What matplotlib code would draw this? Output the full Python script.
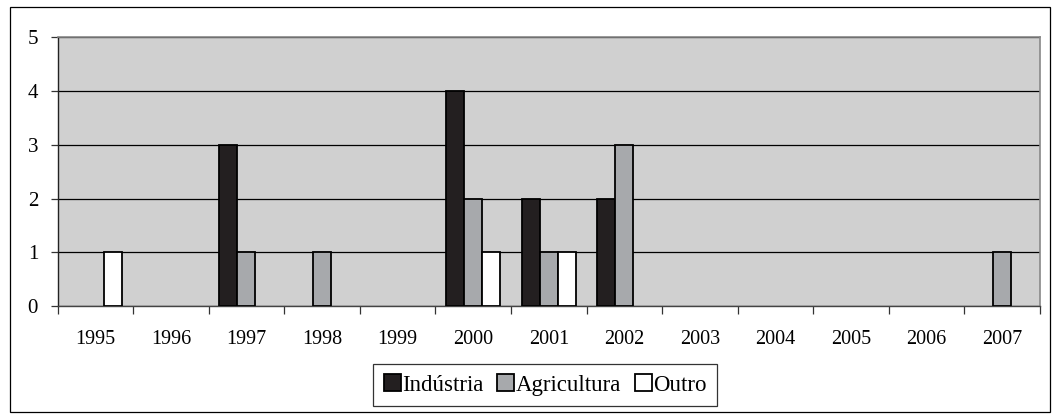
import numpy as np
import matplotlib.pyplot as plt
from matplotlib.patches import Rectangle

# Data
years = ['1995', '1996', '1997', '1998', '1999', '2000', '2001',
         '2002', '2003', '2004', '2005', '2006', '2007']
industria = [0, 0, 3, 0, 0, 4, 2, 2, 0, 0, 0, 0, 0]
agricultura = [0, 0, 1, 1, 0, 2, 1, 3, 0, 0, 0, 0, 1]
outro = [1, 0, 0, 0, 0, 1, 1, 0, 0, 0, 0, 0, 0]

plt.rcParams['font.family'] = ['Liberation Serif', 'DejaVu Serif']

fig = plt.figure(figsize=(10.6, 4.19), dpi=100, facecolor='white')
ax = fig.add_axes([57.5 / 1060, 1 - 306 / 419, (1040 - 57.5) / 1060, (306 - 37.5) / 419])
ax.set_facecolor('#d0d0d0')

x = np.arange(len(years))
w = 0.238
series = [
    (industria, '#231f20', 'Indústria'),
    (agricultura, '#a7a9ac', 'Agricultura'),
    (outro, '#ffffff', 'Outro'),
]
for i, (vals, col, lab) in enumerate(series):
    v = np.array(vals, dtype=float)
    v = np.where(v == 0, np.nan, v)
    ax.bar(x + (i - 1) * w, v, width=w, color=col, edgecolor='black',
           linewidth=1.3, label=lab, zorder=3)

ax.set_xlim(-0.5, len(years) - 0.5)
ax.set_ylim(0, 5)
ax.set_yticks(range(6))
ax.yaxis.grid(True, color='black', linewidth=0.9, zorder=1)
ax.set_xticks(x)
ax.set_xticklabels(years, fontsize=14.5)
ax.set_xticks(np.arange(-0.5, len(years)), minor=True)
ax.tick_params(axis='x', which='major', length=0, pad=17)
ax.tick_params(axis='x', which='minor', length=6, width=0.9, direction='out', color='#333333')
ax.tick_params(axis='y', length=5, width=0.9, labelsize=15, pad=9, color='#333333')

for s in ['top', 'right']:
    ax.spines[s].set_color('#888888')
    ax.spines[s].set_linewidth(1.2)
ax.spines['left'].set_color('#222222')
ax.spines['bottom'].set_color('#444444')
ax.spines['left'].set_linewidth(1.0)
ax.spines['bottom'].set_linewidth(1.0)

leg = ax.legend(loc='center', bbox_to_anchor=(545 / 1060, 1 - 385 / 419),
                bbox_transform=fig.transFigure, ncol=3, fontsize=16.5,
                frameon=True, fancybox=False, edgecolor='black',
                handlelength=0.75, handleheight=0.75, handletextpad=0.05,
                columnspacing=0.6, borderpad=0.45, borderaxespad=0)
leg.get_frame().set_linewidth(0.9)

# outer chart border
fig.patches.append(Rectangle((10 / 1060, 1 - 412 / 419), 1040 / 1060, 405 / 419,
                             transform=fig.transFigure, fill=False,
                             edgecolor='black', linewidth=0.9))

fig.savefig('out.png', dpi=100, facecolor='white')
